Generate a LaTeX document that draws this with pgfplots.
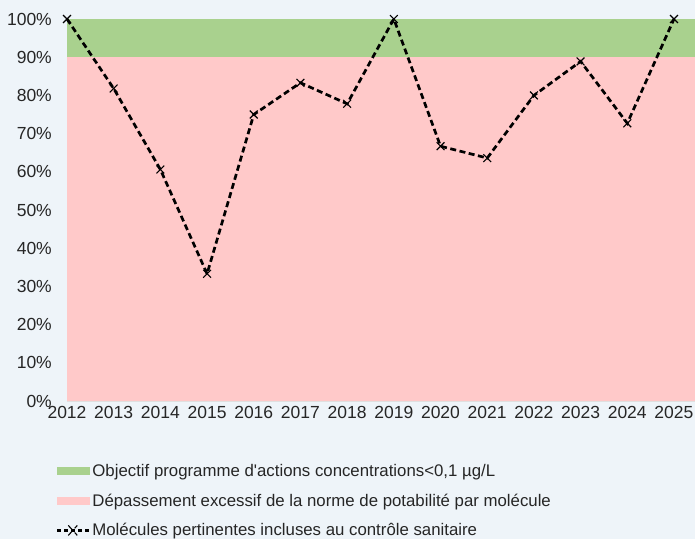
\documentclass[border=0pt]{standalone}
\usepackage{pgfplots}
\pgfplotsset{compat=1.18}
\usepackage{fontspec}
\setmainfont{Liberation Sans}[Ligatures=TeXOff]
\definecolor{bg}{HTML}{EEF4F9}
\definecolor{greenc}{HTML}{A9D18E}
\definecolor{pinkc}{HTML}{FFC9C9}
\definecolor{txt}{HTML}{262626}
\begin{document}
\begin{tikzpicture}[x=1pt,y=1pt]
\fill[bg] (0,0) rectangle (695,539);
\begin{axis}[
  at={(67pt,138pt)}, anchor=south west,
  scale only axis, width=628pt, height=382pt,
  xmin=2012, xmax=2025.45, ymin=0, ymax=100,
  clip=false,
  axis line style={draw=none},
  major tick length=0pt,
  xtick={2012,...,2025},
  ytick={0,10,...,100},
  /pgf/number format/assume math mode=true,
  /pgf/number format/1000 sep={},
  yticklabel={\pgfmathprintnumber{\tick}\%},
  tick label style={font=\fontsize{17.5}{20}\selectfont, text=txt, inner sep=0pt},
  yticklabel style={anchor=east, xshift=-15pt},
  xticklabel style={anchor=north, yshift=-5pt},
  legend style={at={(axis description cs:-0.0175,-0.160)}, anchor=north west,
    draw=none, fill=none, inner sep=0pt,
    font=\fontsize{16.8}{20}\selectfont, text=txt,
    row sep=11.8pt, cells={anchor=west, inner sep=1.5pt}},
  legend cell align=left,
]
\addplot[draw=none, fill=greenc, forget plot] coordinates {(2012,90) (2012,100) (2025.45,100) (2025.45,90)} -- cycle;
\addplot[draw=none, fill=pinkc, forget plot] coordinates {(2012,0) (2012,90) (2025.45,90) (2025.45,0)} -- cycle;
\draw[black!12, line width=0.8pt] (axis cs:2012,0) -- (axis cs:2025.45,0);
\addlegendimage{legend image code/.code={\fill[greenc] (0pt,-3.5pt) rectangle (32pt,3.5pt);}}
\addlegendentry{Objectif programme d'actions concentrations<0,1 µg/L}
\addlegendimage{legend image code/.code={\fill[pinkc] (0pt,-3.5pt) rectangle (32pt,3.5pt);}}
\addlegendentry{Dépassement excessif de la norme de potabilité par molécule}
\addplot[black, line width=2.7pt, dash pattern=on 6pt off 3.5pt,
  mark=x, mark size=5.5pt, mark options={solid, line width=1.1pt},
  legend image code/.code={\draw[black, line width=2.2pt, dash pattern=on 4pt off 3pt] (0pt,0pt) -- (32pt,0pt); \draw[black, line width=1.1pt] (11pt,-5pt) -- (20pt,5pt) (11pt,5pt) -- (20pt,-5pt);}]
coordinates {
(2012,100) (2013,81.8) (2014,60.6) (2015,33.3) (2016,75.0) (2017,83.3)
(2018,77.8) (2019,100) (2020,66.7) (2021,63.6) (2022,80.0) (2023,88.9)
(2024,72.7) (2025,100)};
\addlegendentry{Molécules pertinentes incluses au contrôle sanitaire}
\end{axis}
\pgfresetboundingbox
\path (0,0) rectangle (695,539);
\end{tikzpicture}
\end{document}
